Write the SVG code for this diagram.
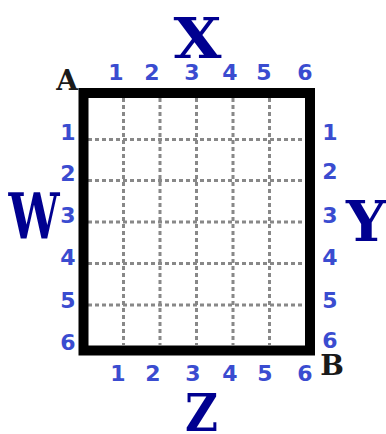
<svg xmlns="http://www.w3.org/2000/svg" width="386" height="434" viewBox="0 0 386 434">
<style>
.big{font-family:"DejaVu Serif",serif;font-weight:bold;font-size:56px;fill:#000090;text-anchor:middle}
.num{font-family:"DejaVu Sans",sans-serif;font-weight:bold;font-size:22px;fill:#3a4cd0;text-anchor:middle}
.corner{font-family:"DejaVu Serif",serif;font-weight:bold;font-size:28px;fill:#1a1a1a;text-anchor:middle}
.grid{stroke:#888;stroke-width:3;stroke-dasharray:4 3;fill:none}
</style>
<rect width="386" height="434" fill="#fff"/>
<g id="grid">
<line class="grid" x1="123.5" y1="98" x2="123.5" y2="345"/>
<line class="grid" x1="160" y1="98" x2="160" y2="345"/>
<line class="grid" x1="196.5" y1="98" x2="196.5" y2="345"/>
<line class="grid" x1="233" y1="98" x2="233" y2="345"/>
<line class="grid" x1="269.5" y1="98" x2="269.5" y2="345"/>
<line class="grid" x1="88" y1="139.5" x2="305" y2="139.5"/>
<line class="grid" x1="88" y1="180.5" x2="305" y2="180.5"/>
<line class="grid" x1="88" y1="222" x2="305" y2="222"/>
<line class="grid" x1="88" y1="263.5" x2="305" y2="263.5"/>
<line class="grid" x1="88" y1="305" x2="305" y2="305"/>
</g>
<g id="frame">
<rect x="83.5" y="93" width="226.5" height="257.5" fill="none" stroke="#000" stroke-width="10"/>
</g>
<g id="labels">
<text class="big" x="197.5" y="58" textLength="48" lengthAdjust="spacingAndGlyphs">X</text>
<text class="big" x="34" y="239" style="font-size:64px" textLength="51" lengthAdjust="spacingAndGlyphs">W</text>
<text class="big" x="366" y="241" textLength="40" lengthAdjust="spacingAndGlyphs">Y</text>
<text class="big" x="201.5" y="431" style="font-size:52px" textLength="33" lengthAdjust="spacingAndGlyphs">Z</text>
<text class="corner" x="67" y="90">A</text>
<text class="corner" x="332" y="375">B</text>
</g>
<g id="top-numbers">
<text class="num" x="116" y="80">1</text>
<text class="num" x="152" y="80">2</text>
<text class="num" x="192" y="80">3</text>
<text class="num" x="230" y="80">4</text>
<text class="num" x="264" y="80">5</text>
<text class="num" x="305" y="80">6</text>
</g>
<g id="left-numbers">
<text class="num" x="68" y="140">1</text>
<text class="num" x="68" y="181">2</text>
<text class="num" x="68" y="223">3</text>
<text class="num" x="68" y="265">4</text>
<text class="num" x="68" y="308">5</text>
<text class="num" x="68" y="350">6</text>
</g>
<g id="right-numbers">
<text class="num" x="330" y="140">1</text>
<text class="num" x="330" y="179">2</text>
<text class="num" x="330" y="223">3</text>
<text class="num" x="330" y="265">4</text>
<text class="num" x="330" y="308">5</text>
<text class="num" x="330" y="348">6</text>
</g>
<g id="bottom-numbers">
<text class="num" x="118" y="381">1</text>
<text class="num" x="153" y="381">2</text>
<text class="num" x="193" y="381">3</text>
<text class="num" x="230" y="381">4</text>
<text class="num" x="265" y="381">5</text>
<text class="num" x="305" y="381">6</text>
</g>
</svg>
